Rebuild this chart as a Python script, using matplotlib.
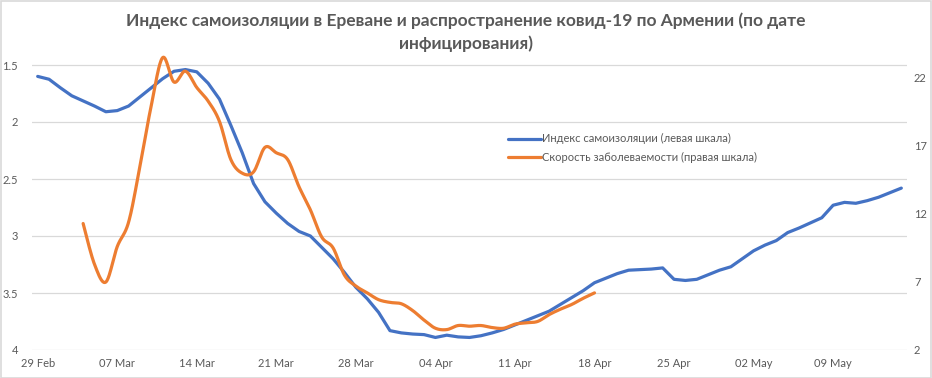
import numpy as np
import matplotlib
matplotlib.use("Agg")
import matplotlib.pyplot as plt
from matplotlib.patches import Rectangle

# ---------------- data ----------------
title = "Индекс самоизоляции в Ереване и распространение ковид-19 по Армении (по дате\nинфицирования)"
label_index = "Индекс самоизоляции (левая шкала)"
label_rate = "Скорость заболеваемости (правая шкала)"

tick_labels = ["29 Feb", "07 Mar", "14 Mar", "21 Mar", "28 Mar", "04 Apr",
               "11 Apr", "18 Apr", "25 Apr", "02 May", "09 May"]

# self-isolation index, daily from 29 Feb (day 0) to 15 May (day 76)
index_values = [1.60, 1.625, 1.70, 1.77, 1.815, 1.86, 1.91, 1.90, 1.86, 1.78,
                1.70, 1.62, 1.555, 1.54, 1.56, 1.66, 1.80, 2.03, 2.27, 2.54,
                2.70, 2.80, 2.89, 2.96, 3.00, 3.10, 3.20, 3.32, 3.45, 3.55,
                3.67, 3.83, 3.85, 3.86, 3.865, 3.89, 3.87, 3.885, 3.89, 3.875,
                3.85, 3.82, 3.78, 3.74, 3.70, 3.66, 3.60, 3.54, 3.48, 3.41,
                3.37, 3.33, 3.30, 3.295, 3.29, 3.28, 3.38, 3.39, 3.38, 3.34,
                3.30, 3.27, 3.20, 3.13, 3.08, 3.04, 2.97, 2.93, 2.885, 2.84,
                2.73, 2.705, 2.713, 2.69, 2.66, 2.62, 2.58]

# infection rate, daily from 4 Mar (day 4) to 18 Apr (day 49)
rate_start_day = 4
rate_values = [11.3, 8.3, 7.0, 9.6, 11.4, 15.5, 20.0, 23.5, 21.7, 22.5,
               21.3, 20.3, 18.8, 16.0, 15.0, 15.1, 16.9, 16.5, 16.0, 14.0,
               12.3, 10.3, 9.5, 7.5, 6.7, 6.2, 5.7, 5.5, 5.4, 4.9,
               4.2, 3.6, 3.5, 3.8, 3.75, 3.8, 3.65, 3.6, 3.9, 4.0,
               4.1, 4.6, 5.0, 5.35, 5.8, 6.2]

left_ticks = [1.5, 2, 2.5, 3, 3.5, 4]
left_tick_labels = ["1.5", "2", "2.5", "3", "3.5", "4"]
right_ticks = [2, 7, 12, 17, 22]


def excel_smooth(x, y, n=20):
    """Excel-like smoothed line (Bezier with 1/6 tangents)."""
    x = np.asarray(x, float)
    y = np.asarray(y, float)
    P = np.column_stack([x, y])
    Pe = np.vstack([P[0], P, P[-1]])
    out = []
    t = np.linspace(0, 1, n, endpoint=False)[:, None]
    for i in range(len(P) - 1):
        p0 = Pe[i + 1]
        p3 = Pe[i + 2]
        c1 = p0 + (Pe[i + 2] - Pe[i]) / 6.0
        c2 = p3 - (Pe[i + 3] - Pe[i + 1]) / 6.0
        seg = ((1 - t) ** 3) * p0 + 3 * ((1 - t) ** 2) * t * c1 + 3 * (1 - t) * t ** 2 * c2 + t ** 3 * p3
        out.append(seg)
    out.append(P[-1][None, :])
    out = np.vstack(out)
    return out[:, 0], out[:, 1]


W, H = 932, 378
fig = plt.figure(figsize=(W / 100, H / 100), dpi=100)
plt.rcParams['font.family'] = ['Lato', 'DejaVu Sans']

x0, x1, yb, yt = 32, 907, 350, 55
ax = fig.add_axes([x0 / W, (H - yb) / H, (x1 - x0) / W, (yb - yt) / H])
ax2 = ax.twinx()

blue = "#4472C4"
orange = "#ED7D31"
grey_txt = "#595959"
grid_c = "#D9D9D9"

days = np.arange(len(index_values))
l1, = ax.plot(days, index_values, color=blue, lw=2.3, solid_joinstyle="round",
              solid_capstyle="round", label=label_index, zorder=3)

rdays = np.arange(rate_start_day, rate_start_day + len(rate_values))
sx, sy = excel_smooth(rdays, rate_values)
l2, = ax2.plot(sx, sy, color=orange, lw=2.3, solid_capstyle="round",
               label=label_rate, zorder=3)

# axes limits (left axis reversed)
px_per_unit_left = 114.0
top_left = 1.5 - (65 - yt) / px_per_unit_left
ax.set_ylim(4, top_left)
px_per_unit_right = 13.6
ax2.set_ylim(2, 2 + (yb - yt) / px_per_unit_right)
ax.set_xlim(-0.5, len(index_values) - 0.5)

ax.set_yticks(left_ticks)
ax.set_yticklabels(left_tick_labels)
ax2.set_yticks(right_ticks)
ax.set_xticks(np.arange(0, len(index_values), 7)[:len(tick_labels)])
ax.set_xticklabels(tick_labels)

for a in (ax, ax2):
    for s in a.spines.values():
        s.set_visible(False)
    a.tick_params(length=0, colors=grey_txt, labelsize=8)

ax.tick_params(axis="y", pad=10)
ax2.tick_params(axis="y", pad=5)
ax.tick_params(axis="x", pad=6)
ax.grid(axis="y", color=grid_c, lw=0.9)
ax.set_axisbelow(True)
ax2.set_zorder(ax.get_zorder() + 1)
ax.patch.set_visible(False)

fig.text(0.5, 1 - 32 / H, title, ha="center", va="center", fontsize=12.5,
         fontweight="bold", color=grey_txt, linespacing=1.45)

leg = ax2.legend(handles=[l1, l2], loc="upper left",
                 bbox_to_anchor=((504 - x0) / (x1 - x0), 1 - (129 - yt) / (yb - yt)),
                 frameon=False, fontsize=8, handlelength=2.9, handletextpad=0.15,
                 labelspacing=0.65, borderaxespad=0)
for t in leg.get_texts():
    t.set_color(grey_txt)

fig.patches.append(Rectangle((0.5 / W, 0.5 / H), 1 - 1.5 / W, 1 - 1.5 / H, transform=fig.transFigure,
                             fill=False, edgecolor=grid_c, lw=1.2))

fig.savefig("out.png", dpi=100)
